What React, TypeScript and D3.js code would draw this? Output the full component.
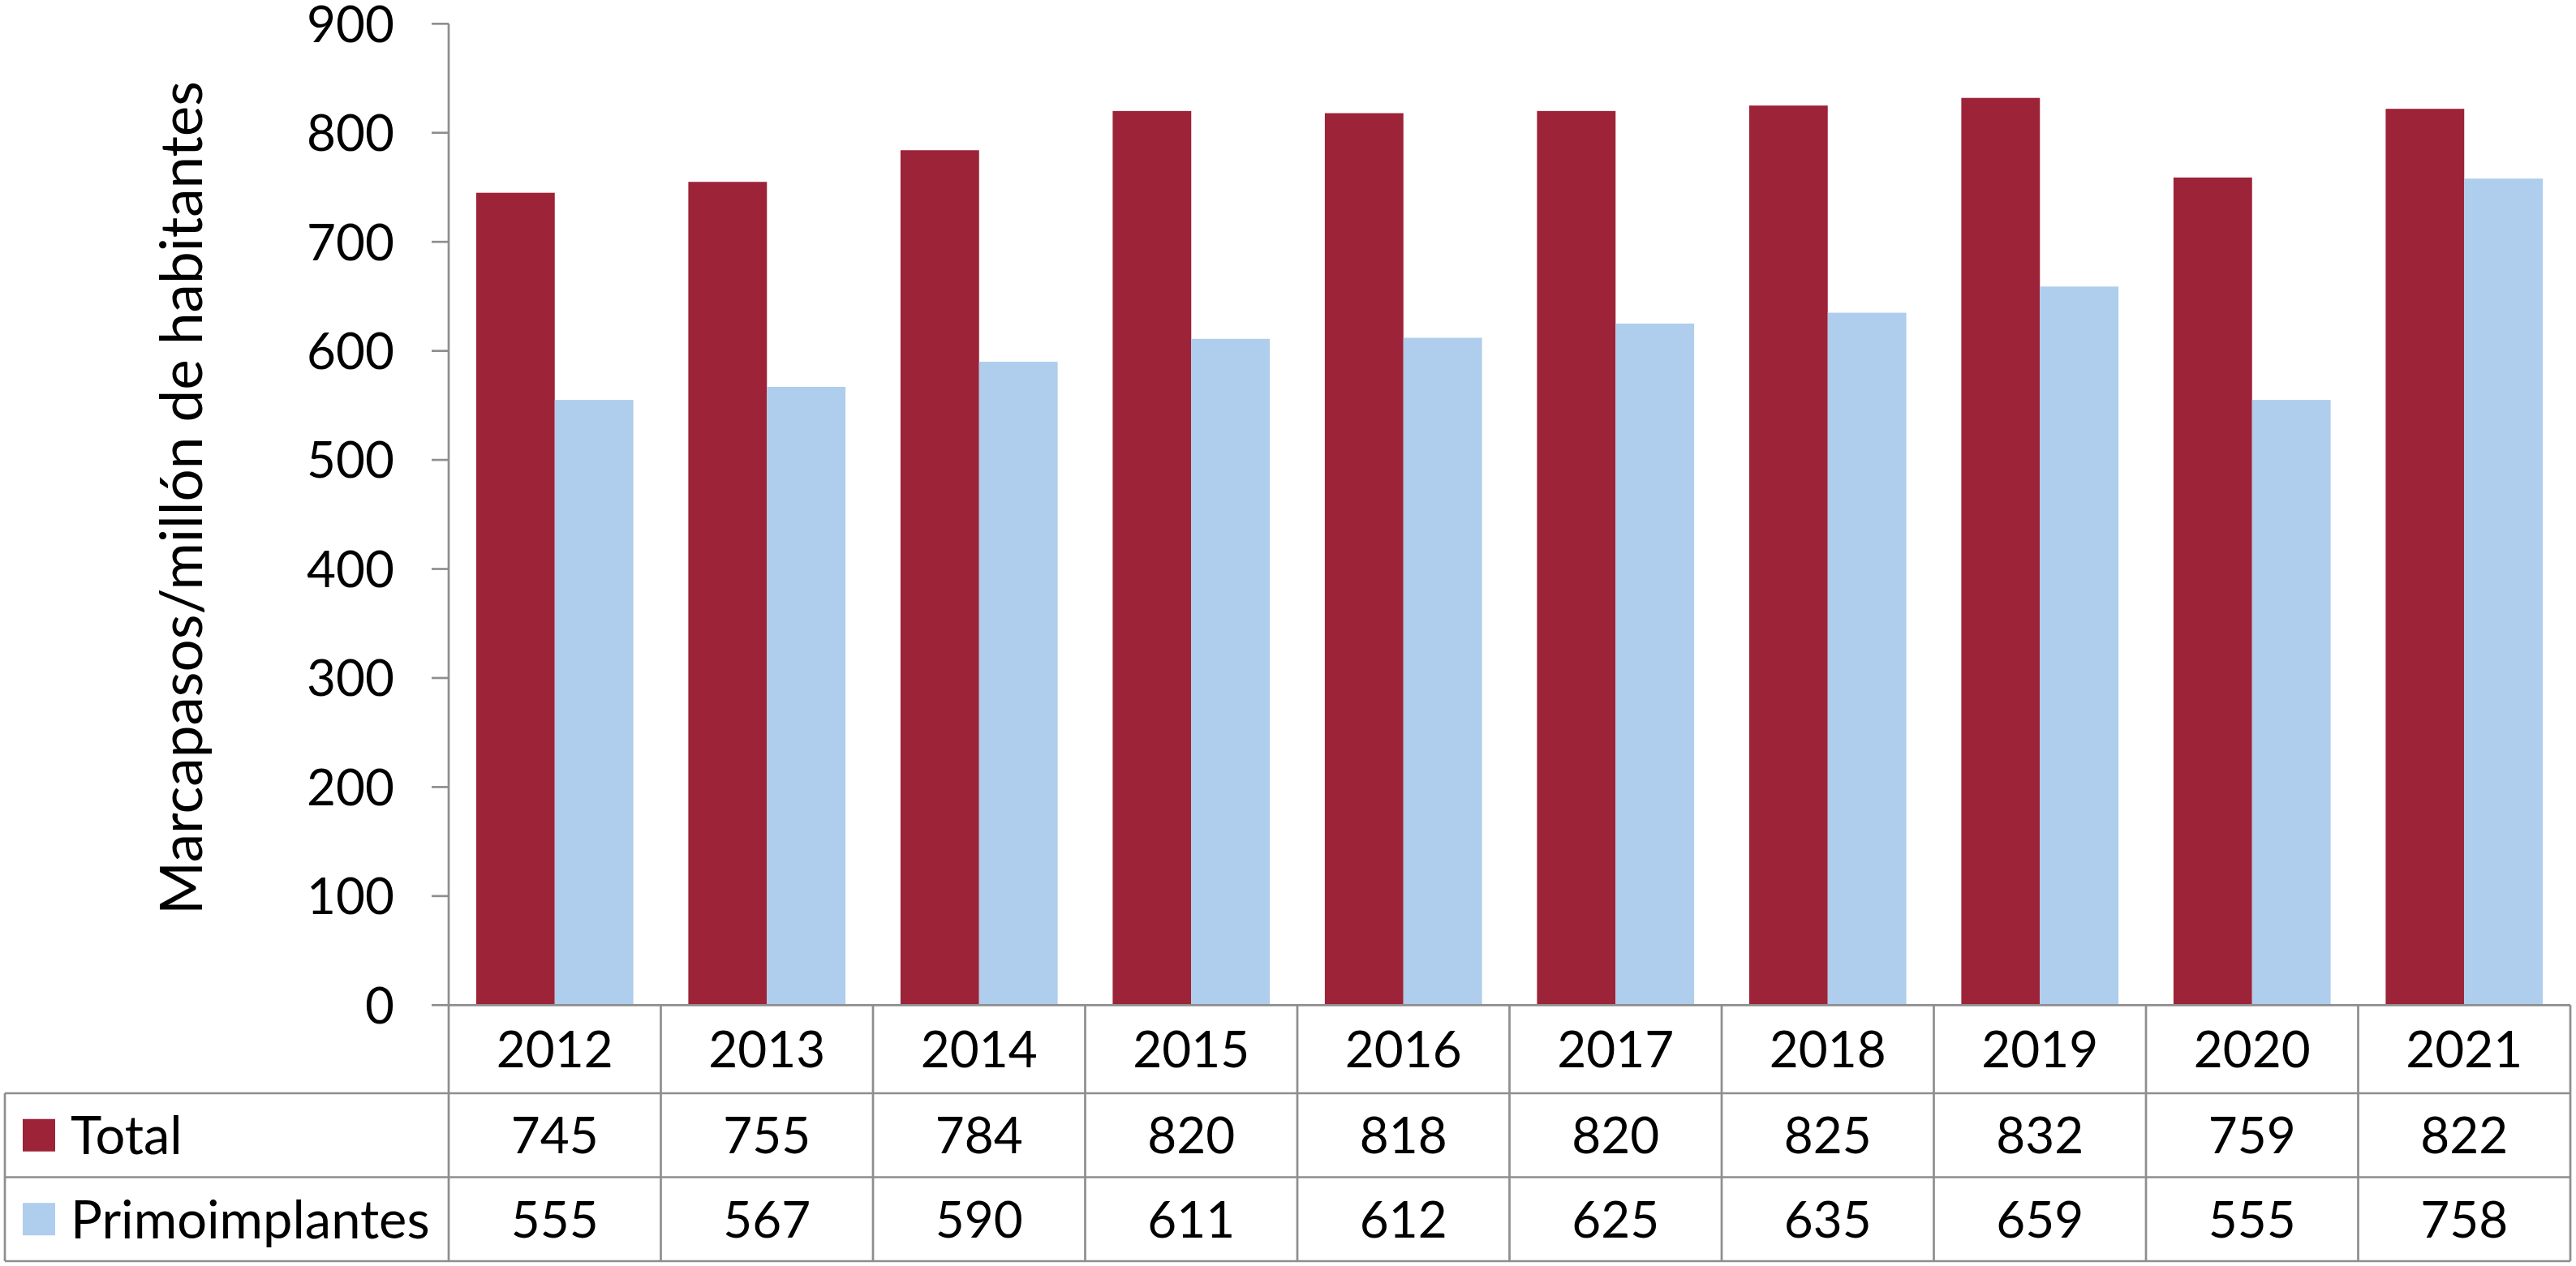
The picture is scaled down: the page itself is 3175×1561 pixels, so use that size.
import React from "react";
import * as d3 from "d3";

const years = ["2012", "2013", "2014", "2015", "2016", "2017", "2018", "2019", "2020", "2021"];
const totalValues = [745, 755, 784, 820, 818, 820, 825, 832, 759, 822];
const primoValues = [555, 567, 590, 611, 612, 625, 635, 659, 555, 758];
const seriesNames = ["Total", "Primoimplantes"];
const seriesColors = ["#9C2338", "#AFCDEC"];
const yTicks = [0, 100, 200, 300, 400, 500, 600, 700, 800, 900];
const yTitle = "Marcapasos/millón de habitantes";

const W = 3175;
const H = 1561;
const FONT = "Lato, 'Open Sans', sans-serif";
const GRID = "#8E8E8E";
const SW = 2.7;

export default function App() {
  const plotLeft = 553;
  const plotRight = 3168;
  const yTop = 29.3;
  const yZero = 1239.3;
  const rowLines = [yZero, 1348, 1451.5, 1555];
  const tableLeft = 6;

  const x = d3.scaleBand<string>().domain(years).range([plotLeft, plotRight]).paddingInner(0).paddingOuter(0);
  const xs = d3.scaleBand<string>().domain(seriesNames).range([0, x.bandwidth()]).paddingInner(0).paddingOuter(0.35);
  const y = d3.scaleLinear().domain([0, 900]).range([yZero, yTop]);

  const series = [totalValues, primoValues];

  return (
    <svg width={W} height={H} style={{ position: "absolute", left: 0, top: 0, display: "block", background: "#fff" }}>
      <rect x={0} y={0} width={W} height={H} fill="#fff" />
      {/* bars */}
      {series.map((vals, si) =>
        vals.map((v, i) => (
          <rect
            key={`b${si}-${i}`}
            x={(x(years[i]) as number) + (xs(seriesNames[si]) as number)}
            y={y(v)}
            width={xs.bandwidth()}
            height={yZero - y(v)}
            fill={seriesColors[si]}
          />
        ))
      )}
      {/* y axis line through table */}
      <line x1={plotLeft} x2={plotLeft} y1={yTop} y2={rowLines[3]} stroke={GRID} strokeWidth={SW} />
      {/* ticks */}
      {yTicks.map((t) => (
        <g key={`t${t}`}>
          <line x1={plotLeft - 21} x2={plotLeft} y1={y(t)} y2={y(t)} stroke={GRID} strokeWidth={SW} />
          <text x={486} y={y(t)} dy="0.36em" textAnchor="end" fontFamily={FONT} fontSize={62} fill="#000">
            {t}
          </text>
        </g>
      ))}
      {/* y title */}
      <text
        transform={`translate(249, 614) rotate(-90)`}
        textAnchor="middle"
        fontFamily={FONT}
        fontSize={71}
        fill="#000"
      >
        {yTitle}
      </text>
      {/* table horizontal lines */}
      <line x1={plotLeft} x2={plotRight} y1={rowLines[0]} y2={rowLines[0]} stroke={GRID} strokeWidth={SW} />
      {rowLines.slice(1).map((ry, i) => (
        <line key={`r${i}`} x1={tableLeft} x2={plotRight} y1={ry} y2={ry} stroke={GRID} strokeWidth={SW} />
      ))}
      {/* table verticals */}
      <line x1={tableLeft} x2={tableLeft} y1={rowLines[1]} y2={rowLines[3]} stroke={GRID} strokeWidth={SW} />
      {years.map((yr) => {
        const xr = (x(yr) as number) + x.bandwidth();
        return <line key={`v${yr}`} x1={xr} x2={xr} y1={rowLines[0]} y2={rowLines[3]} stroke={GRID} strokeWidth={SW} />;
      })}
      {/* category row */}
      {years.map((yr) => (
        <text
          key={`c${yr}`}
          x={(x(yr) as number) + x.bandwidth() / 2}
          y={(rowLines[0] + rowLines[1]) / 2}
          dy="0.36em"
          textAnchor="middle"
          fontFamily={FONT}
          fontSize={62}
          fill="#000"
        >
          {yr}
        </text>
      ))}
      {/* value rows */}
      {series.map((vals, si) => {
        const cy = (rowLines[si + 1] + rowLines[si + 2]) / 2;
        return (
          <g key={`row${si}`}>
            <rect x={28} y={cy - 20} width={40} height={40} fill={seriesColors[si]} />
            <text x={87} y={cy} dy="0.36em" fontFamily={FONT} fontSize={65} fill="#000">
              {seriesNames[si]}
            </text>
            {vals.map((v, i) => (
              <text
                key={`v${si}-${i}`}
                x={(x(years[i]) as number) + x.bandwidth() / 2}
                y={cy}
                dy="0.36em"
                textAnchor="middle"
                fontFamily={FONT}
                fontSize={62}
                fill="#000"
              >
                {v}
              </text>
            ))}
          </g>
        );
      })}
    </svg>
  );
}
